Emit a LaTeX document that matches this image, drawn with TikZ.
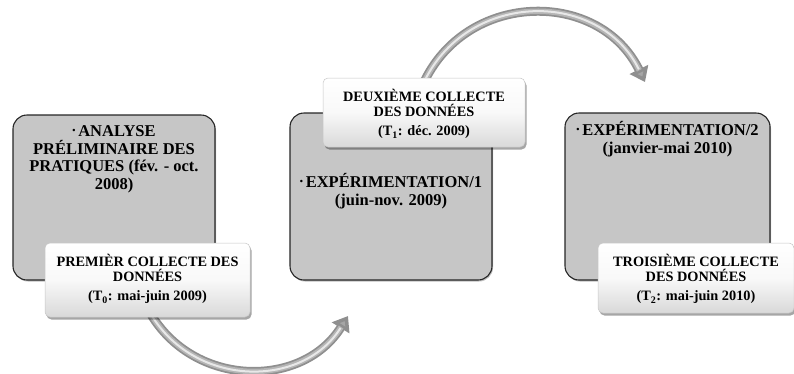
\documentclass[tikz,border=0pt]{standalone}
\usepackage{fontspec}
\setmainfont{Liberation Serif}
\usetikzlibrary{shadows,arrows.meta}
\newcommand{\tstrut}{\rule{0pt}{16pt}}
\newcommand{\mybullet}{\raisebox{3pt}{\fontsize{9}{9}\selectfont •}\,}
\tikzset{
  graybox/.style={rectangle, rounded corners=14pt, draw=black!85, line width=1.1pt,
    fill=gray!45, inner sep=0pt,
    drop shadow={shadow xshift=1pt, shadow yshift=-1.5pt, opacity=0.25, fill=black}},
  whitebox/.style={rectangle, rounded corners=5pt, draw=gray!45, line width=0.5pt,
    top color=white, bottom color=gray!30, middle color=white!95!gray, inner sep=0pt,
    drop shadow={shadow xshift=1.5pt, shadow yshift=-2.5pt, opacity=0.35, fill=black}},
  gtext/.style={font=\fontsize{16.5}{17.5}\selectfont\bfseries, align=center,
    inner sep=0pt, anchor=north, text=black},
  wtext/.style={font=\fontsize{14.3}{14.5}\selectfont\bfseries, align=center,
    inner sep=0pt, anchor=north, text=black},
  arrowouter/.style={line width=9pt, draw=gray!88,
    -{Triangle[length=14pt,width=20pt,fill=gray!70]}},
  arrowmid/.style={line width=5.5pt, draw=gray!58, shorten >=13pt},
  arrowhi/.style={line width=2pt, draw=gray!18, shorten >=14pt}
}
\begin{document}
\begin{tikzpicture}[x=1pt,y=-1pt]
\useasboundingbox (0,0) rectangle (794,373);
% connector coordinates
\coordinate (a1s) at (146,300);
\coordinate (a1m) at (152,316);
\coordinate (a1e) at (348,316);
\coordinate (a2s) at (420,95);
\coordinate (a2m) at (425,80);
\coordinate (a2e) at (645,82);
% arrows (behind boxes)
\foreach \st in {arrowouter,arrowmid,arrowhi}{
  \draw[\st] (a1s) -- (a1m) .. controls (197,388) and (303,388) .. (a1e);
  \draw[\st] (a2s) -- (a2m) .. controls (470,-10) and (600,-10) .. (a2e);
}
% gray boxes
\node[graybox, minimum width=202pt, minimum height=165pt] (g1) at (114,197.5) {};
\node[graybox, minimum width=202pt, minimum height=167pt] (g2) at (391,196.5) {};
\node[graybox, minimum width=205pt, minimum height=167pt] (g3) at (667.5,196.5) {};
% white boxes
\node[whitebox, minimum width=205pt, minimum height=74pt] (w1) at (147.5,280) {};
\node[whitebox, minimum width=202pt, minimum height=69pt] (w2) at (424,112.5) {};
\node[whitebox, minimum width=196pt, minimum height=70pt] (w3) at (696,278) {};
% texts
\node[gtext] (t1) at ([yshift=-6pt]g1.north)
  {\tstrut\mybullet ANALYSE\\PRÉLIMINAIRE DES\\PRATIQUES (fév. - oct.\\2008)};
\node[gtext] (t2) at ([yshift=-59pt]g2.north)
  {\tstrut\mybullet EXPÉRIMENTATION/1\\(juin-nov. 2009)};
\node[gtext] (t3) at ([yshift=-7pt]g3.north)
  {\tstrut\mybullet EXPÉRIMENTATION/2\\(janvier-mai 2010)};
\node[wtext] (u1) at ([yshift=-8pt]w1.north)
  {\tstrut PREMIÈR COLLECTE DES\\DONNÉES\\[5pt](T\textsubscript{0}: mai-juin 2009)};
\node[wtext] (u2) at ([yshift=-8pt]w2.north)
  {\tstrut DEUXIÈME COLLECTE\\DES DONNÉES\\[5pt](T\textsubscript{1}: déc. 2009)};
\node[wtext] (u3) at ([yshift=-8pt]w3.north)
  {\tstrut TROISIÈME COLLECTE\\DES DONNÉES\\[5pt](T\textsubscript{2}: mai-juin 2010)};
\end{tikzpicture}
\end{document}
